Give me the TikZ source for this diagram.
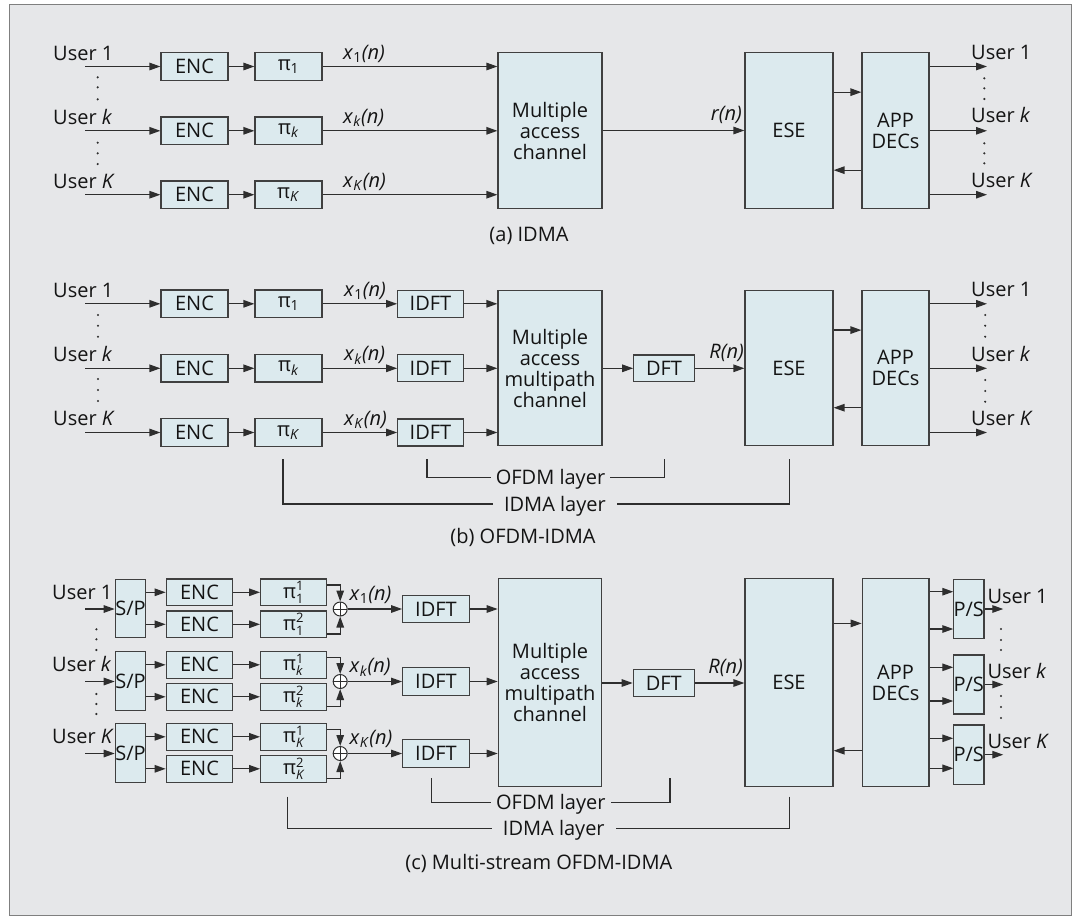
\documentclass[tikz,border=0pt]{standalone}
\usepackage{fontspec}
\setmainfont{Open Sans}
\usetikzlibrary{arrows.meta}
\definecolor{bgcol}{HTML}{E6E7E9}
\definecolor{framecol}{HTML}{7F7F7F}
\definecolor{boxfill}{HTML}{DCEAEE}
\definecolor{boxline}{HTML}{404040}
\definecolor{linecol}{HTML}{2E2E2E}
\definecolor{txtcol}{HTML}{141414}
\newcommand{\xlab}[1]{\textit{x}\textsubscript{#1}\textit{(n)}}
\newcommand{\pisub}[1]{π\textsubscript{#1}}
\newcommand{\pisupsub}[2]{$\mbox{π}^{\mbox{\fontsize{13}{13}\selectfont #1}}_{\mbox{\fontsize{13}{13}\selectfont #2}}$}
\begin{document}
\begin{tikzpicture}[x=1pt,y=-1pt,
  font=\fontsize{20}{21}\selectfont, text=txtcol,
  blk/.style={draw=boxline, fill=boxfill, line width=1.2pt, inner sep=0pt, align=center},
  enc/.style={blk, minimum width=67pt, minimum height=27.5pt},
  encc/.style={blk, minimum width=66.5pt, minimum height=26.7pt},
  arr/.style={draw=linecol, line width=1.3pt, -{Triangle[length=11pt,width=7.5pt]}},
  ln/.style={draw=linecol, line width=1.3pt},
  lbl/.style={inner sep=0pt},
  lay/.style={inner ysep=0pt, text height=14pt, text depth=0pt},
  plus/.style={circle, draw=linecol, fill=white, line width=1pt, minimum size=14pt, inner sep=0pt,
     path picture={\draw[linecol, line width=1pt] (path picture bounding box.north) -- (path picture bounding box.south) (path picture bounding box.west) -- (path picture bounding box.east);}}
]
\useasboundingbox (0,0) rectangle (1080,916);
\path[draw=framecol, fill=bgcol, line width=1pt] (9,4) rectangle (1071,915);

% ================= (a) IDMA
\node[enc] (ea1) at (194.5,66.5) {ENC};
\node[enc] (eak) at (194.5,130.8) {ENC};
\node[enc] (eaK) at (194.5,194.7) {ENC};
\node[enc] (pa1) at (288.5,66.5) {\pisub{1}};
\node[enc] (pak) at (288.5,130.8) {\pisub{\textit{k}}};
\node[enc] (paK) at (288.5,194.7) {\pisub{\textit{K}}};
\node[blk, minimum width=104pt, minimum height=155.5pt] (maca) at (550,130.5) {Multiple\\access\\channel};
\node[blk, minimum width=88pt, minimum height=155.5pt] (esea) at (789,130.5) {ESE};
\node[blk, minimum width=67pt, minimum height=155.5pt] (appa) at (895.5,130.5) {APP\\DECs};
\coordinate (sa1) at (85,66.5); \coordinate (sak) at (85,130.8); \coordinate (saK) at (85,194.7);
\coordinate (oa1) at (987,66.5); \coordinate (oak) at (987,130.8); \coordinate (oaK) at (987,194.7);
\foreach \r in {1,k,K}{
  \draw[arr] (sa\r) -- (ea\r);
  \draw[arr] (ea\r) -- (pa\r);
  \draw[arr] (pa\r) -- (pa\r -| maca.west);
  \draw[arr] (appa.east |- oa\r) -- (oa\r);
}
\draw[arr] (maca) -- (esea);
\draw[arr] ([yshift=-40pt]esea.north east) -- ([yshift=-40pt]appa.north west);
\draw[arr] ([yshift=-118pt]appa.north west) -- ([yshift=-118pt]esea.north east);
\node[lbl, anchor=base west] (ua1) at (53,60) {User 1};
\node[lbl, anchor=base west] (uak) at (53,124.3) {User \textit{k}};
\node[lbl, anchor=base west] (uaK) at (53,188.3) {User \textit{K}};
\node[lbl, anchor=base west] (xa1) at (343,59.3) {\xlab{1}};
\node[lbl, anchor=base west] (xak) at (343,123.5) {\xlab{\textit{k}}};
\node[lbl, anchor=base west] (xaK) at (343,187.7) {\xlab{\textit{K}}};
\node[lbl, anchor=base east] (ra) at (742,120.7) {\textit{r(n)}};
\node[lbl, anchor=base west] (va1) at (971,59.3) {User 1};
\node[lbl, anchor=base west] (vak) at (971,122.7) {User \textit{k}};
\node[lbl, anchor=base west] (vaK) at (971,187.3) {User \textit{K}};
\node[lbl, anchor=base] (capa) at (529,241) {(a) IDMA};
\foreach \yy in {77.3,87.3,99.3,142.7,153.3,164} \fill[linecol] (97.7,\yy) circle (1.2pt);
\foreach \yy in {78.3,88.3,99,143.3,153.3,163.3} \fill[linecol] (984.3,\yy) circle (1.2pt);

% ================= (b) OFDM-IDMA
\node[enc] (eb1) at (194.5,303.8) {ENC};
\node[enc] (ebk) at (194.5,368.3) {ENC};
\node[enc] (ebK) at (194.5,432.5) {ENC};
\node[enc] (pb1) at (288.5,303.8) {\pisub{1}};
\node[enc] (pbk) at (288.5,368.3) {\pisub{\textit{k}}};
\node[enc] (pbK) at (288.5,432.5) {\pisub{\textit{K}}};
\node[blk, minimum width=65.5pt, minimum height=27pt] (ib1) at (430.5,303.8) {IDFT};
\node[blk, minimum width=65.5pt, minimum height=27pt] (ibk) at (430.5,368.3) {IDFT};
\node[blk, minimum width=65.5pt, minimum height=27pt] (ibK) at (430.5,432.5) {IDFT};
\node[blk, minimum width=104pt, minimum height=155pt] (macb) at (550,368.2) {Multiple\\access\\multipath\\channel};
\node[blk, minimum width=60.5pt, minimum height=26.7pt] (dftb) at (664,368.3) {DFT};
\node[blk, minimum width=88pt, minimum height=155pt] (eseb) at (789,368.2) {ESE};
\node[blk, minimum width=67pt, minimum height=155pt] (appb) at (895.5,368.2) {APP\\DECs};
\coordinate (sb1) at (85,303.8); \coordinate (sbk) at (85,368.3); \coordinate (sbK) at (85,432.5);
\coordinate (ob1) at (987,303.8); \coordinate (obk) at (987,368.3); \coordinate (obK) at (987,432.5);
\foreach \r in {1,k,K}{
  \draw[arr] (sb\r) -- (eb\r);
  \draw[arr] (eb\r) -- (pb\r);
  \draw[arr] (pb\r) -- (ib\r);
  \draw[arr] (ib\r) -- (ib\r -| macb.west);
  \draw[arr] (appb.east |- ob\r) -- (ob\r);
}
\draw[arr] (macb.east |- dftb) -- (dftb);
\draw[arr] (dftb) -- (dftb -| eseb.west);
\draw[arr] ([yshift=-40pt]eseb.north east) -- ([yshift=-40pt]appb.north west);
\draw[arr] ([yshift=-117.6pt]appb.north west) -- ([yshift=-117.6pt]eseb.north east);
\node[lbl, anchor=base west] (ub1) at (53,297) {User 1};
\node[lbl, anchor=base west] (ubk) at (53,361.7) {User \textit{k}};
\node[lbl, anchor=base west] (ubK) at (53,425.7) {User \textit{K}};
\node[lbl, anchor=base west] (xb1) at (344,296.3) {\xlab{1}};
\node[lbl, anchor=base west] (xbk) at (344,360.8) {\xlab{\textit{k}}};
\node[lbl, anchor=base west] (xbK) at (344,425) {\xlab{\textit{K}}};
\node[lbl, anchor=base east] (rb) at (744,358.3) {\textit{R(n)}};
\node[lbl, anchor=base west] (vb1) at (971,296.7) {User 1};
\node[lbl, anchor=base west] (vbk) at (971,361.3) {User \textit{k}};
\node[lbl, anchor=base west] (vbK) at (971,425.3) {User \textit{K}};
\foreach \yy in {315,325.7,336.7,379,390,401} \fill[linecol] (98,\yy) circle (1.2pt);
\foreach \yy in {315,325.7,336.7,380,391,401.7} \fill[linecol] (985.2,\yy) circle (1.2pt);
\node[lay, inner xsep=5pt] (ofb) at (550.5,477.3) {OFDM layer};
\coordinate (ofbl) at (427,459); \coordinate (ofbr) at (664.8,459);
\draw[ln] (ofbl) |- (ofb.west);
\draw[ln] (ofbr) |- (ofb.east);
\node[lay, inner xsep=11pt] (idb) at (554.9,504) {IDMA layer};
\coordinate (idbl) at (283,459); \coordinate (idbr) at (789.2,459);
\draw[ln] (idbl) |- (idb.west);
\draw[ln] (idbr) |- (idb.east);
\node[lbl, anchor=base] (capb) at (523,543.5) {(b) OFDM-IDMA};

% ================= (c) Multi-stream OFDM-IDMA
\node[blk, minimum width=30.3pt, minimum height=58.7pt] (sp1) at (130.5,608.5) {S/P};
\node[blk, minimum width=30.3pt, minimum height=58.7pt] (spk) at (130.5,681) {S/P};
\node[blk, minimum width=30.3pt, minimum height=58.7pt] (spK) at (130.5,753) {S/P};
\node[encc] (e1u) at (199.5,592.3) {ENC};
\node[encc] (e1l) at (199.5,624.3) {ENC};
\node[encc] (eku) at (199.5,664.8) {ENC};
\node[encc] (ekl) at (199.5,696.8) {ENC};
\node[encc] (eKu) at (199.5,736.8) {ENC};
\node[encc] (eKl) at (199.5,768.8) {ENC};
\node[encc, minimum width=65.7pt] (p1u) at (293.5,592.3) {\pisupsub{1}{1}};
\node[encc, minimum width=65.7pt] (p1l) at (293.5,624.3) {\pisupsub{2}{1}};
\node[encc, minimum width=65.7pt] (pku) at (293.5,664.8) {\pisupsub{1}{\itshape k}};
\node[encc, minimum width=65.7pt] (pkl) at (293.5,696.8) {\pisupsub{2}{\itshape k}};
\node[encc, minimum width=65.7pt] (pKu) at (293.5,736.8) {\pisupsub{1}{\itshape K}};
\node[encc, minimum width=65.7pt] (pKl) at (293.5,768.8) {\pisupsub{2}{\itshape K}};
\node[plus] (o1) at (340.2,609) {};
\node[plus] (ok) at (340.2,681.5) {};
\node[plus] (oK) at (340.2,753.5) {};
\node[blk, minimum width=66.6pt, minimum height=27.3pt] (i1) at (436,609) {IDFT};
\node[blk, minimum width=66.6pt, minimum height=27.3pt] (ik) at (436,681.5) {IDFT};
\node[blk, minimum width=66.6pt, minimum height=27.3pt] (iK) at (436,753.5) {IDFT};
\node[blk, minimum width=103.4pt, minimum height=208.4pt] (macc) at (550,682.5) {Multiple\\access\\multipath\\channel};
\node[blk, minimum width=61pt, minimum height=27.4pt] (dftc) at (663.8,683) {DFT};
\node[blk, minimum width=88pt, minimum height=208.4pt] (esec) at (789,682.5) {ESE};
\node[blk, minimum width=66.7pt, minimum height=208.4pt] (appc) at (895.6,682.5) {APP\\DECs};
\node[blk, minimum width=30.7pt, minimum height=59.4pt] (ps1) at (968.7,609) {P/S};
\node[blk, minimum width=30.7pt, minimum height=59pt] (psk) at (968.7,684.5) {P/S};
\node[blk, minimum width=30.7pt, minimum height=59.3pt] (psK) at (968.7,754.7) {P/S};
\coordinate (sc1) at (85,609); \coordinate (sck) at (85,681.5); \coordinate (scK) at (85,753.5);
\foreach \r in {1,k,K}{
  \draw[arr] (sc\r) -- (sc\r -| sp\r.west);
  \draw[arr] (sp\r.east |- e\r u) -- (e\r u);
  \draw[arr] (sp\r.east |- e\r l) -- (e\r l);
  \draw[arr] (e\r u) -- (p\r u);
  \draw[arr] (e\r l) -- (p\r l);
  \draw[arr] ([yshift=7.3pt]p\r u.east) -| (o\r.north);
  \draw[arr] ([yshift=-9.7pt]p\r l.east) -| (o\r.south);
  \draw[arr] (o\r) -- (i\r);
  \draw[arr] (i\r) -- (i\r -| macc.west);
}
\draw[arr] (macc.east |- dftc) -- (dftc);
\draw[arr] (dftc) -- (dftc -| esec.west);
\draw[arr] ([yshift=-45.7pt]esec.north east) -- ([yshift=-45.7pt]appc.north west);
\draw[arr] ([yshift=-173pt]appc.north west) -- ([yshift=-173pt]esec.north east);
\coordinate (q1a) at (953.3,591.7); \coordinate (q1b) at (953.3,629);
\coordinate (qka) at (953.3,667.3); \coordinate (qkb) at (953.3,701);
\coordinate (qKa) at (953.3,738.3); \coordinate (qKb) at (953.3,768.3);
\coordinate (oc1) at (1003.3,609); \coordinate (ock) at (1003.3,684.5); \coordinate (ocK) at (1003.3,754.7);
\foreach \r in {1,k,K}{
  \draw[arr] (appc.east |- q\r a) -- (q\r a);
  \draw[arr] (appc.east |- q\r b) -- (q\r b);
  \draw[arr] (ps\r.east |- oc\r) -- (oc\r);
}
\node[lbl, anchor=base west] (uc1) at (52,599) {User 1};
\node[lbl, anchor=base west] (uck) at (52,671.5) {User \textit{k}};
\node[lbl, anchor=base west] (ucK) at (52,743) {User \textit{K}};
\node[lbl, anchor=base west] (xc1) at (349.5,600) {\xlab{1}};
\node[lbl, anchor=base west] (xck) at (349.5,672.5) {\xlab{\textit{k}}};
\node[lbl, anchor=base west] (xcK) at (349.5,744.5) {\xlab{\textit{K}}};
\node[lbl, anchor=base east] (rc) at (743,673.3) {\textit{R(n)}};
\node[lbl, anchor=base west] (vc1) at (987.3,603.3) {User 1};
\node[lbl, anchor=base west] (vck) at (987.3,678.3) {User \textit{k}};
\node[lbl, anchor=base west] (vcK) at (987.3,748.3) {User \textit{K}};
\foreach \yy in {629.3,639.3,650,694,704,714} \fill[linecol] (96.4,\yy) circle (1.2pt);
\foreach \yy in {629,640,650,696,707,718} \fill[linecol] (1001,\yy) circle (1.2pt);
\node[lay, inner xsep=5pt] (ofc) at (550.8,802.7) {OFDM layer};
\coordinate (ofcl) at (431.7,778.3); \coordinate (ofcr) at (670,778.3);
\draw[ln] (ofcl) |- (ofc.west);
\draw[ln] (ofcr) |- (ofc.east);
\node[lay, inner xsep=11pt] (idc) at (553.8,828.5) {IDMA layer};
\coordinate (idcl) at (287.5,796.7); \coordinate (idcr) at (789.2,796.7);
\draw[ln] (idcl) |- (idc.west);
\draw[ln] (idcr) |- (idc.east);
\node[lbl, anchor=base] (capc) at (538.8,869) {(c) Multi-stream OFDM-IDMA};
\end{tikzpicture}
\end{document}
